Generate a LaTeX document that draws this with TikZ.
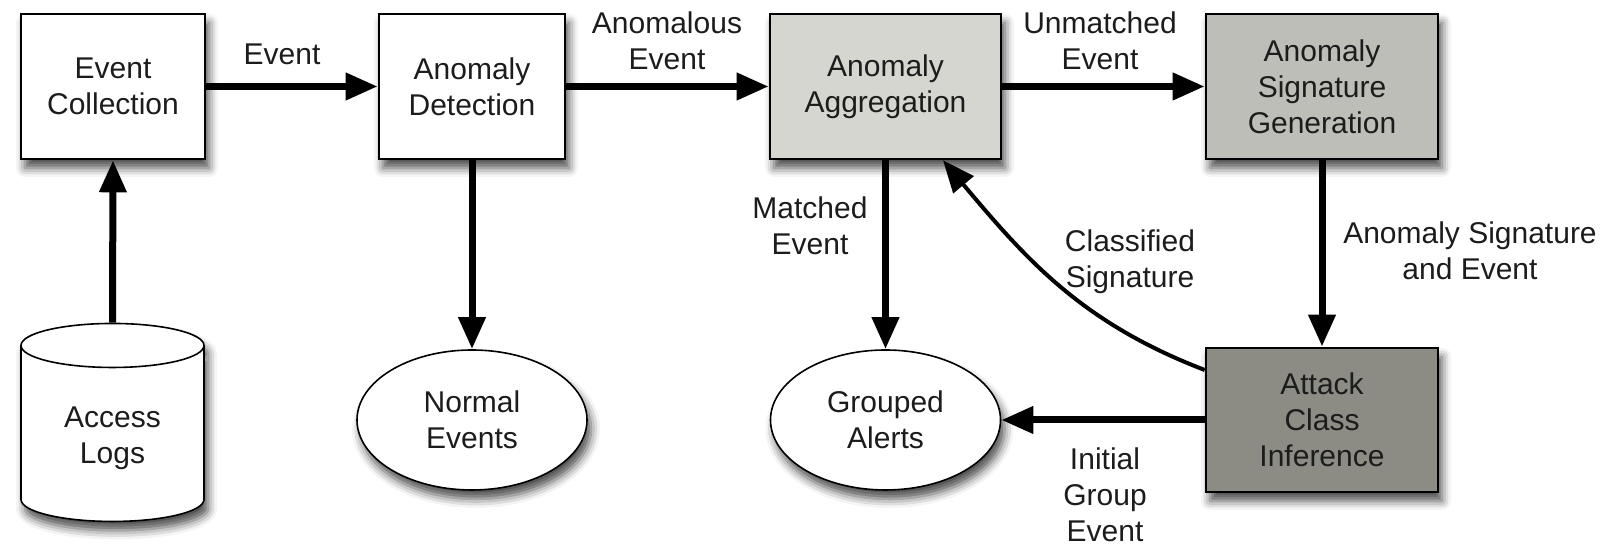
\documentclass[tikz,border=0pt]{standalone}
\usepackage{fontspec}
\setmainfont{Liberation Sans}
\usetikzlibrary{arrows.meta,positioning,shapes.geometric,shadows.blur}
\definecolor{aggfill}{HTML}{D6D6D0}
\definecolor{sigfill}{HTML}{BEBEB8}
\definecolor{attfill}{HTML}{8C8C84}
\definecolor{txt}{HTML}{1C1C1C}

\begin{document}
\begin{tikzpicture}[x=0.5pt,y=0.5pt,font=\fontsize{15}{18}\selectfont,text=txt,
  boxshadow/.style={blur shadow={shadow xshift=2pt,shadow yshift=-4.5pt,shadow blur radius=4.5pt,shadow opacity=70}},
  procbox/.style={draw,line width=1.3pt,fill=white,align=center,minimum height=72.5pt,inner sep=2pt,boxshadow},
  blob/.style={ellipse,draw,line width=0.8pt,fill=white,align=center,minimum width=115pt,minimum height=70pt,inner sep=0pt,boxshadow},
  lbl/.style={align=center,inner sep=0pt},
  flow/.style={line width=3.5pt,-{Triangle[length=16pt,width=13pt]}}]
\useasboundingbox (0,0) rectangle (1614,549);
\node[procbox,minimum width=92pt] (ec) at (113,462.5) {Event\\Collection};
\node[procbox,minimum width=93pt] (ad) at (472,462.5) {Anomaly\\Detection};
\node[procbox,minimum width=115.5pt,fill=aggfill] (aa) at (885.5,462.5) {Anomaly\\Aggregation};
\node[procbox,minimum width=116pt,fill=sigfill] (sg) at (1322,462.5) {Anomaly\\Signature\\Generation};
\node[procbox,minimum width=116pt,minimum height=72pt,fill=attfill] (ci) at (1322,129) {Attack\\Class\\Inference};
\node[cylinder,shape border rotate=90,aspect=0.4,draw,line width=0.8pt,fill=white,minimum width=91.5pt,minimum height=99pt,align=center,boxshadow] (al) at (112.5,111) {Access\\Logs};
\node[blob] (ne) at (472,129) {Normal\\Events};
\node[blob] (ga) at (885.5,129) {Grouped\\Alerts};
\node[lbl] (l1) at (282,495) {Event};
\node[lbl] (l2) at (667,508) {Anomalous\\Event};
\node[lbl] (l3) at (1100,508) {Unmatched\\Event};
\node[lbl] (l4) at (810,323) {Matched\\Event};
\node[lbl] (l5) at (1130,287) {Classified\\Signature};
\node[lbl] (l6) at (1470,298) {Anomaly Signature\\and Event};
\node[lbl] (l7) at (1105,54) {Initial\\Group\\Event};
\draw[flow] (al.north) -- (ec.south);
\draw[flow] (ec) -- (ad);
\draw[flow] (ad) -- (aa);
\draw[flow] (aa) -- (sg);
\draw[flow] (ad) -- (ne);
\draw[flow] (aa) -- (ga);
\draw[flow] (sg) -- (ci);
\draw[flow] (ci) -- (ga);
\draw[line width=2pt,-{Triangle[length=16pt,width=13pt]}] ([yshift=25pt]ci.west) to[out=159,in=-50] ([xshift=28.75pt]aa.south);
\end{tikzpicture}
\end{document}
